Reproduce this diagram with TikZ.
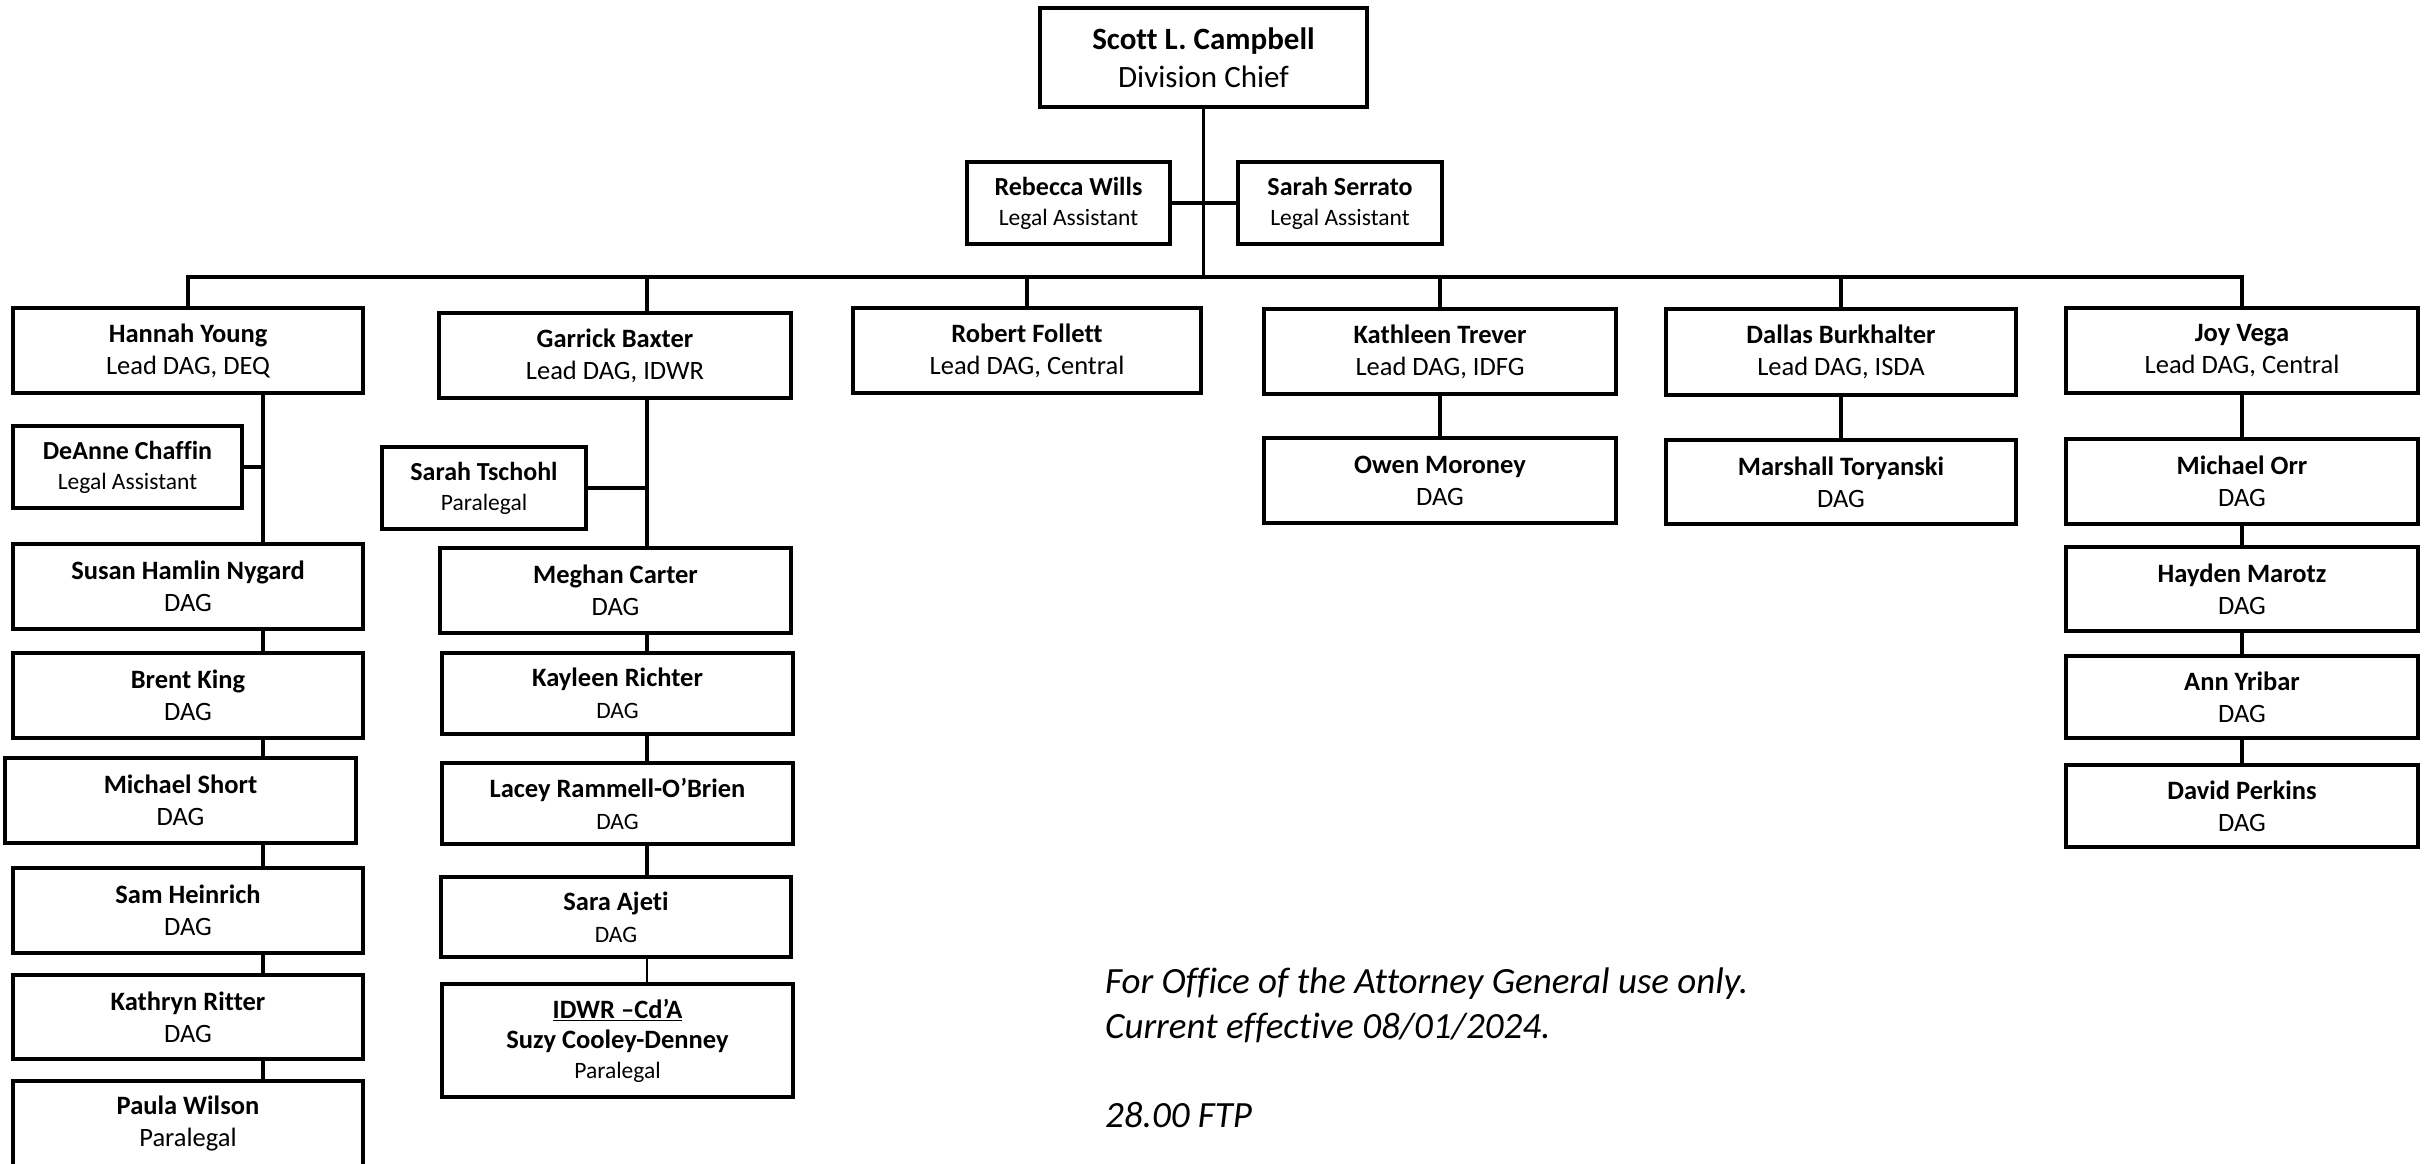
\documentclass[tikz,border=0pt]{standalone}
\usepackage{fontspec}
\setmainfont{Carlito}[Ligatures=NoCommon]
\newcommand\smt[1]{{\fontsize{23.5}{28}\selectfont #1}}
\begin{document}
\begin{tikzpicture}[x=1pt,y=-1pt,
  box/.style={draw, line width=3.3pt, align=center, inner sep=0pt,
    font=\fontsize{26.5}{32}\selectfont},
  wide/.style={box, minimum width=350pt, minimum height=85pt},
  small/.style={box, minimum width=204pt, minimum height=82pt,
    font=\fontsize{26}{30}\selectfont},
  conn/.style={line width=3.3pt},
  thin/.style={line width=2pt},
  note/.style={anchor=base west, inner sep=0pt,
    font=\fontsize{37}{44}\selectfont\itshape}]
\useasboundingbox (0,0) rectangle (2425,1164);
\fill[white] (0,0) rectangle (2425,1164);

% top
\node[box, minimum width=327pt, minimum height=99pt, font=\fontsize{31}{38}\selectfont]
  (scott) at (1203.5,57.5) {\textbf{Scott L. Campbell}\\Division Chief};
\node[small, minimum width=203pt] (rebecca) at (1068.5,203) {\textbf{Rebecca Wills}\\\smt{Legal Assistant}};
\node[small] (serrato) at (1340,203) {\textbf{Sarah Serrato}\\\smt{Legal Assistant}};

% column 1
\node[wide] (hannah) at (188,350.5) {\textbf{Hannah Young}\\Lead DAG, DEQ};
\node[small, minimum width=229pt] (deanne) at (127.5,467) {\textbf{DeAnne Chaffin}\\\smt{Legal Assistant}};
\node[wide] (susan) at (188,586.5) {\textbf{Susan Hamlin Nygard}\\DAG};
\node[wide] (brent) at (188,695.5) {\textbf{Brent King}\\DAG};
\node[wide, minimum width=351pt] (short) at (180.5,800.5) {\textbf{Michael Short}\\DAG};
\node[wide] (sam) at (188,910.5) {\textbf{Sam Heinrich}\\DAG};
\node[wide, minimum height=84pt] (ritter) at (188,1017) {\textbf{Kathryn Ritter}\\DAG};
\node[wide] (paula) at (188,1123.5) {\textbf{Paula Wilson}\\Paralegal};

% column 2
\node[wide, minimum width=352pt] (garrick) at (615,355.5) {\textbf{Garrick Baxter}\\Lead DAG, IDWR};
\node[small] (tschohl) at (484,488) {\textbf{Sarah Tschohl}\\\smt{Paralegal}};
\node[wide, minimum width=351pt] (meghan) at (615.5,590.5) {\textbf{Meghan Carter}\\DAG};
\node[wide, minimum width=351pt, minimum height=81pt] (kayleen) at (617.5,693.5) {\textbf{Kayleen Richter}\\\smt{DAG}};
\node[wide, minimum width=351pt, minimum height=81pt] (lacey) at (617.5,803.5) {\textbf{Lacey Rammell-O’Brien}\\\smt{DAG}};
\node[wide, minimum height=80pt] (ajeti) at (616,917) {\textbf{Sara Ajeti}\\\smt{DAG}};
\node[wide, minimum width=351pt, minimum height=113pt, font=\fontsize{26.5}{30}\selectfont] (idwr) at (617.5,1040.5)
  {\textbf{\underline{IDWR –Cd’A}}\\\textbf{Suzy Cooley-Denney}\\\smt{Paralegal}};

% column 3
\node[wide, minimum width=348pt] (robert) at (1027,350.5) {\textbf{Robert Follett}\\Lead DAG, Central};

% column 4
\node[wide, minimum width=352pt] (kathleen) at (1440,351.5) {\textbf{Kathleen Trever}\\Lead DAG, IDFG};
\node[wide, minimum width=352pt] (owen) at (1440,480.5) {\textbf{Owen Moroney}\\DAG};

% column 5
\node[wide, minimum height=86pt] (dallas) at (1841,352) {\textbf{Dallas Burkhalter}\\Lead DAG, ISDA};
\node[wide, minimum height=84pt] (marshall) at (1841,482) {\textbf{Marshall Toryanski}\\DAG};

% column 6
\node[wide, minimum width=352pt] (joy) at (2242,350.5) {\textbf{Joy Vega}\\Lead DAG, Central};
\node[wide, minimum width=352pt] (orr) at (2242,481.5) {\textbf{Michael Orr}\\DAG};
\node[wide, minimum width=352pt, minimum height=84pt] (hayden) at (2242,589) {\textbf{Hayden Marotz}\\DAG};
\node[wide, minimum width=352pt, minimum height=82pt] (ann) at (2242,697) {\textbf{Ann Yribar}\\DAG};
\node[wide, minimum width=352pt, minimum height=82pt] (perkins) at (2242,806) {\textbf{David Perkins}\\DAG};

% notes
\node[note] (n1) at (1105,993) {For Office of the Attorney General use only.};
\node[note] (n2) at (1105,1038) {Current effective 08/01/2024.};
\node[note] (n3) at (1105,1127) {28.00 FTP};

% coordinates
\coordinate (busR) at (2242,277);
\coordinate (lx) at (263,0);
\coordinate (gx) at (647,0);

% connectors
\draw[conn] (hannah.north) |- (busR) -- (joy.north);
\draw[conn] (scott.south) -- (scott.south |- busR);
\draw[conn] (rebecca.east) -- (serrato.west);
\draw[conn] (robert.north) -- (robert.north |- busR);
\draw[conn] (gx |- garrick.north) -- (gx |- busR);
\draw[conn] (kathleen.north) -- (kathleen.north |- busR);
\draw[conn] (dallas.north) -- (dallas.north |- busR);

\draw[conn] (lx |- hannah.south) -- (lx |- susan.north);
\draw[conn] (deanne.east) -- (deanne.east -| lx);
\draw[conn] (lx |- susan.south) -- (lx |- brent.north);
\draw[conn] (lx |- brent.south) -- (lx |- short.north);
\draw[conn] (lx |- short.south) -- (lx |- sam.north);
\draw[conn] (lx |- sam.south) -- (lx |- ritter.north);
\draw[conn] (lx |- ritter.south) -- (lx |- paula.north);

\draw[conn] (gx |- garrick.south) -- (gx |- meghan.north);
\draw[conn] (tschohl.east) -- (tschohl.east -| gx);
\draw[conn] (gx |- meghan.south) -- (gx |- kayleen.north);
\draw[conn] (gx |- kayleen.south) -- (gx |- lacey.north);
\draw[conn] (gx |- lacey.south) -- (gx |- ajeti.north);
\draw[thin] (gx |- ajeti.south) -- (gx |- idwr.north);

\draw[conn] (kathleen.south) -- (owen.north);
\draw[conn] (dallas.south) -- (marshall.north);
\draw[conn] (joy.south) -- (orr.north);
\draw[conn] (orr.south) -- (hayden.north);
\draw[conn] (hayden.south) -- (ann.north);
\draw[conn] (ann.south) -- (perkins.north);
\end{tikzpicture}
\end{document}
